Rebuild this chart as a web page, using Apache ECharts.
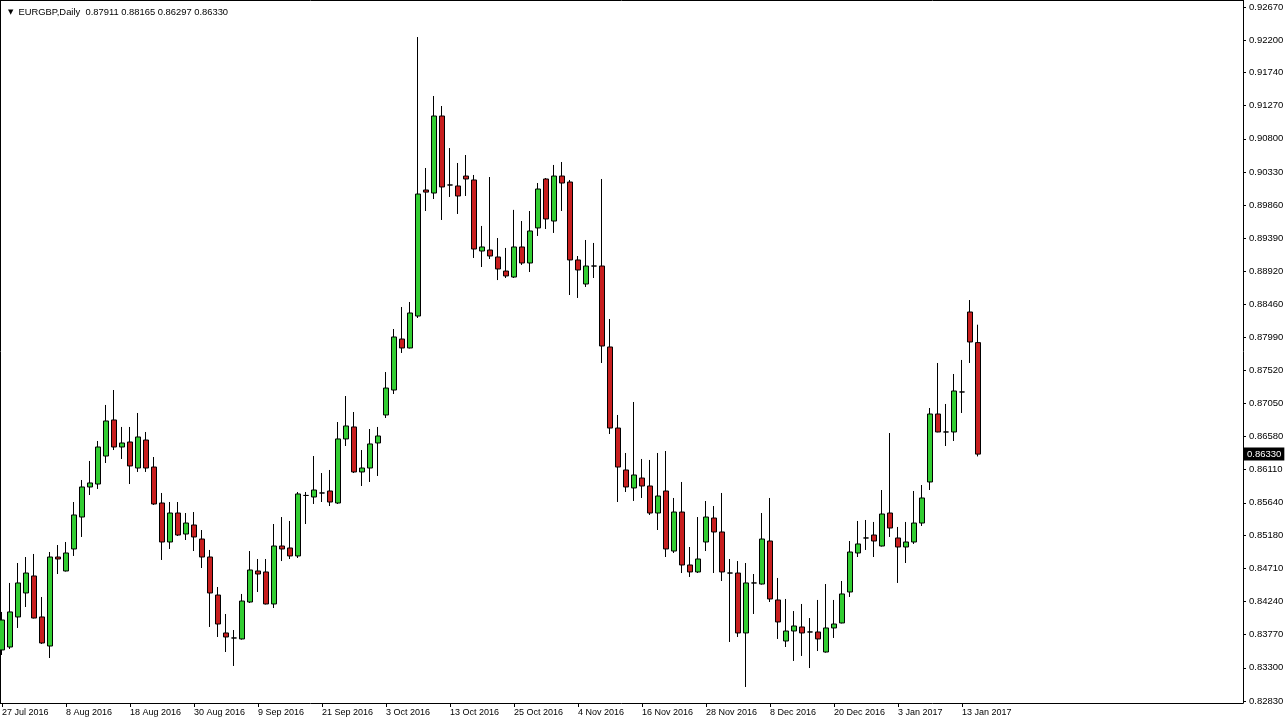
<!DOCTYPE html>
<html><head><meta charset="utf-8">
<script src="https://cdn.jsdelivr.net/npm/echarts@6/dist/echarts.min.js"></script>
<style>html,body{margin:0;padding:0;background:#fff}#c{width:1287px;height:725px}</style>
</head><body><div id="c"></div>
<script>
const symbolName = 'EURGBP';
const period = 'Daily';
const dates = [
'27 Jul 2016','28 Jul 2016','29 Jul 2016','1 Aug 2016','2 Aug 2016','3 Aug 2016','4 Aug 2016','5 Aug 2016',
'8 Aug 2016','9 Aug 2016','10 Aug 2016','11 Aug 2016','12 Aug 2016','15 Aug 2016','16 Aug 2016','17 Aug 2016',
'18 Aug 2016','19 Aug 2016','22 Aug 2016','23 Aug 2016','24 Aug 2016','25 Aug 2016','26 Aug 2016','29 Aug 2016',
'30 Aug 2016','31 Aug 2016','1 Sep 2016','2 Sep 2016','5 Sep 2016','6 Sep 2016','7 Sep 2016','8 Sep 2016',
'9 Sep 2016','12 Sep 2016','13 Sep 2016','14 Sep 2016','15 Sep 2016','16 Sep 2016','19 Sep 2016','20 Sep 2016',
'21 Sep 2016','22 Sep 2016','23 Sep 2016','26 Sep 2016','27 Sep 2016','28 Sep 2016','29 Sep 2016','30 Sep 2016',
'3 Oct 2016','4 Oct 2016','5 Oct 2016','6 Oct 2016','7 Oct 2016','10 Oct 2016','11 Oct 2016','12 Oct 2016',
'13 Oct 2016','14 Oct 2016','17 Oct 2016','18 Oct 2016','19 Oct 2016','20 Oct 2016','21 Oct 2016','24 Oct 2016',
'25 Oct 2016','26 Oct 2016','27 Oct 2016','28 Oct 2016','31 Oct 2016','1 Nov 2016','2 Nov 2016','3 Nov 2016',
'4 Nov 2016','7 Nov 2016','8 Nov 2016','9 Nov 2016','10 Nov 2016','11 Nov 2016','14 Nov 2016','15 Nov 2016',
'16 Nov 2016','17 Nov 2016','18 Nov 2016','21 Nov 2016','22 Nov 2016','23 Nov 2016','24 Nov 2016','25 Nov 2016',
'28 Nov 2016','29 Nov 2016','30 Nov 2016','1 Dec 2016','2 Dec 2016','5 Dec 2016','6 Dec 2016','7 Dec 2016',
'8 Dec 2016','9 Dec 2016','12 Dec 2016','13 Dec 2016','14 Dec 2016','15 Dec 2016','16 Dec 2016','19 Dec 2016',
'20 Dec 2016','21 Dec 2016','22 Dec 2016','23 Dec 2016','27 Dec 2016','28 Dec 2016','29 Dec 2016','30 Dec 2016',
'3 Jan 2017','4 Jan 2017','5 Jan 2017','6 Jan 2017','9 Jan 2017','10 Jan 2017','11 Jan 2017','12 Jan 2017',
'13 Jan 2017','16 Jan 2017','17 Jan 2017'
];
const open = [
0.83553,0.83595,0.84021,0.84361,0.84602,0.84021,0.83609,0.84871,0.84673,0.84985,
0.85438,0.85864,0.85906,0.86303,0.86814,0.86431,0.86502,0.86133,0.86530,0.86147,
0.85637,0.85084,0.85495,0.85197,0.85325,0.85126,0.84871,0.84332,0.83794,0.83723,
0.83709,0.84233,0.84673,0.84659,0.84205,0.85027,0.84999,0.84886,0.85744,0.85722,
0.85779,0.85807,0.85637,0.86545,0.86715,0.86077,0.86133,0.86488,0.86885,0.87239,
0.87962,0.87835,0.88288,0.90075,0.90032,0.91124,0.90146,0.90132,0.90273,0.90217,
0.89210,0.89224,0.89125,0.88926,0.88841,0.89267,0.89040,0.89537,0.90231,0.89635,
0.90273,0.90188,0.89083,0.88742,0.88997,0.88997,0.87849,0.86700,0.86105,0.85850,
0.85991,0.85878,0.85495,0.85807,0.84956,0.85509,0.84758,0.84659,0.85084,0.85424,
0.85226,0.84644,0.84644,0.83794,0.84503,0.84488,0.85098,0.84262,0.83680,0.83822,
0.83879,0.83808,0.83808,0.83524,0.83865,0.83936,0.84375,0.84928,0.85141,0.85183,
0.85027,0.85495,0.85141,0.85013,0.85084,0.85353,0.85935,0.86899,0.86644,0.86644,
0.87211,0.88345,0.87911
];
const high = [
0.84092,0.84503,0.84786,0.84871,0.84914,0.84304,0.84942,0.85041,0.85084,0.85651,
0.85963,0.86233,0.86516,0.87027,0.87239,0.86715,0.86715,0.86913,0.86644,0.86289,
0.85779,0.85651,0.85651,0.85495,0.85509,0.85254,0.84971,0.84446,0.84063,0.83836,
0.84347,0.84956,0.84843,0.84843,0.85339,0.85438,0.85382,0.85793,0.85793,0.86303,
0.86062,0.86105,0.86785,0.87154,0.86927,0.86388,0.86686,0.86715,0.87494,0.88104,
0.88416,0.88487,0.92244,0.90387,0.91408,0.91266,0.90670,0.90458,0.90571,0.90288,
0.89565,0.90259,0.89394,0.89253,0.89793,0.89635,0.89777,0.90174,0.90245,0.90430,
0.90472,0.90217,0.89139,0.89366,0.89324,0.90231,0.88246,0.86885,0.86346,0.87069,
0.86261,0.86247,0.86346,0.86374,0.85708,0.85935,0.85013,0.85438,0.85665,0.85594,
0.85779,0.84843,0.84814,0.84786,0.84630,0.85495,0.85708,0.84574,0.84276,0.84105,
0.84205,0.84006,0.84262,0.84488,0.84262,0.84531,0.85098,0.85382,0.85396,0.85368,
0.85821,0.86629,0.85297,0.85368,0.85807,0.85892,0.86984,0.87622,0.87041,0.87466,
0.87665,0.88515,0.88165
];
const low = [
0.83482,0.83567,0.83865,0.84162,0.84000,0.83638,0.83439,0.84630,0.84665,0.84886,
0.85155,0.85750,0.85836,0.86204,0.86388,0.86261,0.85906,0.86077,0.86077,0.85609,
0.84829,0.84985,0.85169,0.85112,0.84956,0.84715,0.83879,0.83737,0.83524,0.83326,
0.83700,0.84219,0.84375,0.84198,0.84148,0.84814,0.84843,0.84857,0.85339,0.85623,
0.85651,0.85594,0.85623,0.86445,0.86062,0.85878,0.85935,0.86020,0.86842,0.87182,
0.87764,0.87828,0.88260,0.89777,0.89947,0.89650,0.89976,0.89735,0.89990,0.89111,
0.88983,0.89097,0.88798,0.88827,0.88827,0.89012,0.88912,0.89423,0.89522,0.89466,
0.89777,0.88586,0.88544,0.88700,0.88827,0.87622,0.86615,0.85651,0.85793,0.85666,
0.85708,0.85467,0.85254,0.84871,0.84928,0.84644,0.84588,0.84644,0.84956,0.84644,
0.84531,0.83666,0.83737,0.83028,0.84063,0.84480,0.84233,0.83709,0.83595,0.83397,
0.83468,0.83297,0.83538,0.83515,0.83723,0.83930,0.84304,0.84871,0.84971,0.84871,
0.85020,0.85155,0.84503,0.84786,0.85056,0.85311,0.85821,0.86640,0.86445,0.86516,
0.86913,0.87622,0.86297
];
const close = [
0.83978,0.84092,0.84503,0.84644,0.84006,0.83652,0.84871,0.84843,0.84928,0.85467,
0.85864,0.85921,0.86431,0.86800,0.86431,0.86488,0.86162,0.86573,0.86133,0.85623,
0.85084,0.85495,0.85183,0.85353,0.85155,0.84871,0.84361,0.83921,0.83737,0.83723,
0.84247,0.84687,0.84630,0.84205,0.85027,0.84985,0.84886,0.85765,0.85744,0.85821,
0.85779,0.85651,0.86545,0.86729,0.86077,0.86133,0.86474,0.86587,0.87267,0.87991,
0.87835,0.88331,0.90018,0.90045,0.91124,0.90118,0.90146,0.89990,0.90231,0.89238,
0.89267,0.89139,0.88955,0.88856,0.89267,0.89040,0.89494,0.90089,0.89664,0.90273,
0.90174,0.89083,0.88941,0.88997,0.88997,0.87863,0.86700,0.86147,0.85864,0.86034,
0.85878,0.85495,0.85736,0.84985,0.85509,0.84758,0.84659,0.84843,0.85438,0.85226,
0.84659,0.84644,0.83794,0.84503,0.84503,0.85126,0.84276,0.83950,0.83822,0.83893,
0.83794,0.83808,0.83709,0.83865,0.83921,0.84347,0.84942,0.85056,0.85141,0.85098,
0.85481,0.85282,0.85013,0.85084,0.85353,0.85708,0.86899,0.86644,0.86644,0.87225,
0.87211,0.87920,0.86330
];
const priceTickLabels = [
'0.92670','0.92200','0.91740','0.91270','0.90800','0.90330','0.89860','0.89390',
'0.88920','0.88460','0.87990','0.87520','0.87050','0.86580','0.86110','0.85640',
'0.85180','0.84710','0.84240','0.83770','0.83300','0.82830'
];

const n = dates.length;
const last = n - 1;
const candles = dates.map((d, i) => [i, open[i], close[i], low[i], high[i]]);
const dateTickIdx = dates.map((d, i) => i).filter(i => i % 8 === 0);
const priceTicks = priceTickLabels.map(Number);
const yMin = 0.82801, yMax = 0.92769;
const xMin = -0.25, xMax = 155.125;
const FONT = '"Liberation Sans", Arial, sans-serif';
const header = '{a|▼}' + symbolName + ',' + period + '  ' +
  [open[last], high[last], low[last], close[last]].map(v => v.toFixed(5)).join(' ');

const chart = echarts.init(document.getElementById('c'), null, {renderer: 'canvas'});
chart.setOption({
  animation: false,
  backgroundColor: '#ffffff',
  title: {
    left: 3, top: 3, text: header,
    textStyle: {fontSize: 9.4, fontWeight: 'normal', color: '#000', fontFamily: FONT,
      rich: {a: {fontSize: 7, color: '#000', padding: [0, 5, 0, 0], fontFamily: '"DejaVu Sans"'}}}
  },
  grid: {left: 0, top: 0, right: 44, bottom: 22, containLabel: false, outerBoundsMode: 'none'},
  xAxis: [{
    type: 'value', min: xMin, max: xMax, position: 'bottom',
    axisLine: {show: true, onZero: false, lineStyle: {color: '#000', width: 1}},
    axisTick: {show: true, customValues: dateTickIdx, length: 4, lineStyle: {color: '#000'}},
    axisLabel: {show: true, customValues: dateTickIdx, formatter: v => dates[Math.round(v)] || '',
      align: 'left', margin: 5, fontSize: 9, color: '#000', fontFamily: FONT},
    splitLine: {show: false}
  }, {
    type: 'value', min: xMin, max: xMax, position: 'top',
    axisLine: {show: true, onZero: false, lineStyle: {color: '#000', width: 1}},
    axisTick: {show: false}, axisLabel: {show: false}, splitLine: {show: false}
  }],
  yAxis: [{
    type: 'value', position: 'right', min: yMin, max: yMax,
    axisLine: {show: true, onZero: false, lineStyle: {color: '#000', width: 1}},
    axisTick: {show: true, customValues: priceTicks, length: 3, lineStyle: {color: '#000'}},
    axisLabel: {show: true, customValues: priceTicks, formatter: v => v.toFixed(5),
      margin: 6, fontSize: 9.5, color: '#000', fontFamily: FONT},
    splitLine: {show: false}
  }, {
    type: 'value', position: 'left', min: yMin, max: yMax,
    axisLine: {show: true, onZero: false, lineStyle: {color: '#000', width: 1}},
    axisTick: {show: false}, axisLabel: {show: false}, splitLine: {show: false}
  }],
  series: [{
    type: 'candlestick',
    data: candles,
    encode: {x: 0, y: [1, 2, 3, 4]},
    barWidth: 5,
    itemStyle: {
      color: '#32cd32', color0: '#c81e1e',
      borderColor: '#000', borderColor0: '#000', borderColorDoji: '#000', borderWidth: 1
    }
  }]
});

// current-price tag placed through the library's own y scale
const tagY = chart.convertToPixel({yAxisIndex: 0}, close[last]);
const tagX = chart.convertToPixel({xAxisIndex: 0}, xMax);
chart.setOption({
  graphic: [{
    type: 'text', x: tagX + 1, y: tagY, z: 100,
    style: {
      text: close[last].toFixed(5), fill: '#fff', backgroundColor: '#000',
      font: '9.5px "Liberation Sans", Arial, sans-serif',
      padding: [2, 3, 1, 3], verticalAlign: 'middle', align: 'left'
    }
  }]
});
</script></body></html>
